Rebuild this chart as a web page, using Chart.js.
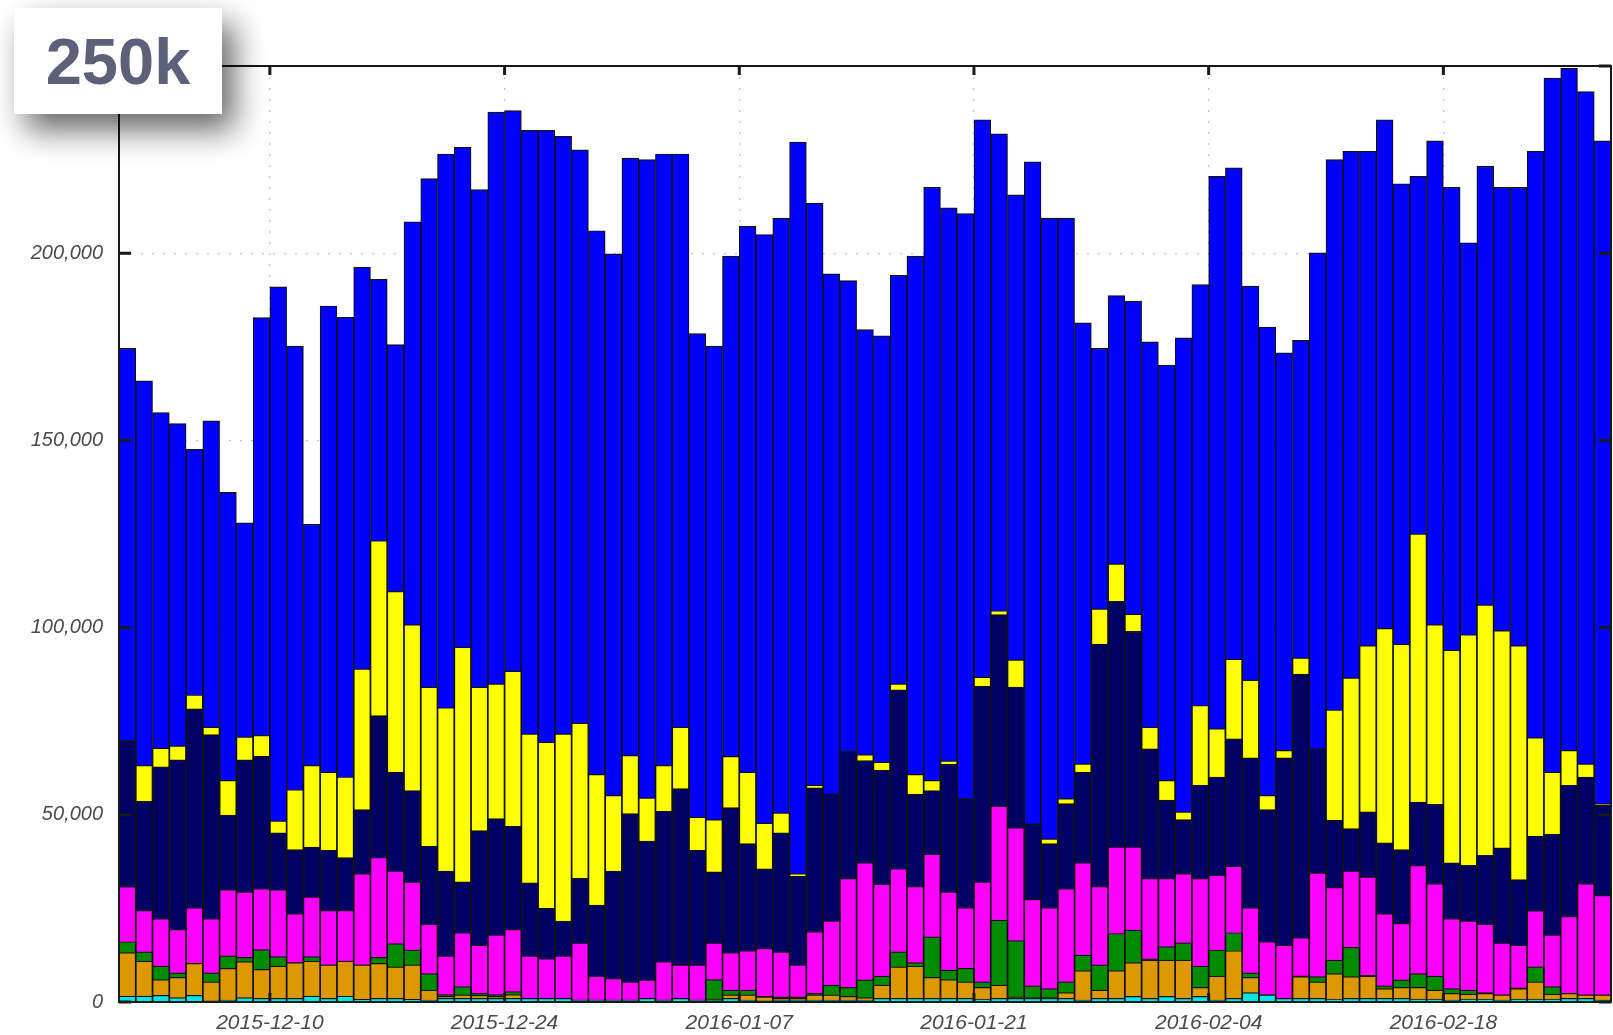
<!DOCTYPE html>
<html><head><meta charset="utf-8">
<script src="https://cdn.jsdelivr.net/npm/chart.js@4.4.1/dist/chart.umd.min.js"></script>
<style>
html,body{margin:0;padding:0;background:#fff;width:1613px;height:1035px;overflow:hidden;}
#wrap{position:relative;width:1613px;height:1035px;}
canvas{position:absolute;left:0;top:0;filter:blur(0.45px);}
#badge{position:absolute;left:14px;top:8px;width:208px;height:106px;background:#fff;box-shadow:12px 16px 30px rgba(0,0,0,0.6);font-family:'Liberation Sans',Arial,sans-serif;font-weight:bold;font-size:65px;color:#5c6079;display:flex;align-items:center;justify-content:center;}
</style></head>
<body><div id="wrap"><canvas id="c" width="1613" height="1035"></canvas><div id="badge">250k</div></div>
<script>
// Day 0 = 2015-12-01, one bar per day (89 days)
const firstDay = '2015-12-01';
const tickDays = [9, 23, 37, 51, 65, 79];
const tickLabels = ['2015-12-10', '2015-12-24', '2016-01-07', '2016-01-21', '2016-02-04', '2016-02-18'];
const yTicks = [0, 50000, 100000, 150000, 200000, 250000];

// Cumulative (stacked) tops of each layer, bottom layer first
const cyan = [
  1600,1600,1800,1200,1800,300,500,1200,1000,1000,
  1000,1600,1000,1600,700,1000,1000,700,500,1000,
  1000,1000,1000,1000,1000,1000,1000,500,500,500,
  500,1000,500,1000,500,500,1000,500,300,500,
  500,500,500,500,500,1000,1000,1000,1000,1000,
  1000,800,1000,1000,1000,1000,1000,500,1000,1000,
  1500,1000,1500,1000,1500,500,1000,2500,1900,1000,
  1000,1000,800,1000,1000,1000,1000,800,800,500,
  800,800,500,800,800,800,1000,1000,500];
const orange = [
  13200,10900,6000,6600,10300,5400,9000,10800,8700,9600,
  10500,10900,9900,10900,9900,10300,9400,9900,3200,1500,
  1900,1800,1500,2000,1000,1000,1000,500,500,500,
  500,1000,500,1000,500,800,1900,1900,1400,1000,
  1000,1900,1900,1500,1200,4500,9400,9600,6600,6000,
  5400,3900,4500,1400,1200,1200,2500,8400,3200,8400,
  10500,11200,11200,11200,3900,6900,13700,6600,1900,1000,
  6800,5400,7600,6800,6900,3600,3900,3900,3200,2300,
  2100,2300,1900,3600,5400,2100,2300,1900,1900];
const green = [
  16100,13400,9600,7800,10300,7800,12300,11900,14000,12100,
  10500,12100,9900,10900,9900,11900,15600,13900,7600,2000,
  4100,2300,2000,2800,1000,1000,1000,500,500,500,
  500,1000,500,1000,500,6000,3200,3200,1600,1400,
  1400,2300,4500,3900,5900,6900,13400,10500,17400,8500,
  9000,5400,21900,16400,4300,3600,5400,12500,9900,18300,
  19200,11500,14800,15800,9600,13900,18500,7800,1900,1000,
  7000,6800,11200,14600,7100,4300,5900,7600,6900,3600,
  3200,2500,1900,3800,9400,4100,2300,1900,1900];
const magenta = [
  30800,24500,22300,19400,25200,22300,30000,29400,30300,30000,
  23600,28100,24500,24500,34300,38600,35000,32100,20800,12300,
  18500,15200,17900,19400,12300,11600,12300,15800,6900,6300,
  5400,5900,10800,9900,9900,15800,13200,13700,14300,13400,
  9900,18800,21700,33000,37200,31500,35600,30900,39500,29400,
  25200,32100,52300,46600,27400,25200,30300,37200,30900,41400,
  41400,33000,33000,34300,33000,33900,36300,25200,16100,15200,
  17200,34500,30600,35000,33400,23600,21000,36500,31600,22300,
  21700,20800,15800,15200,24400,17900,22900,31600,28500];
const navy = [
  69900,53600,62800,64700,78300,71400,49900,64700,65600,45200,
  40700,41400,40500,38600,51400,76500,61400,56500,41600,35000,
  32100,45800,49000,46900,31800,25000,21600,33000,25900,35000,
  50300,43000,50900,57000,40500,34800,51900,42300,35600,45200,
  33600,57200,55600,67000,64500,61900,83400,55500,56500,63500,
  54300,84300,103500,84100,47600,42300,53000,61400,95600,107000,
  99000,67600,53900,48700,57900,60100,70300,65200,51400,65200,
  87600,67600,48500,46300,50800,42500,40700,53400,52800,37200,
  36500,39200,41200,32700,44300,44800,57900,60100,52500];
const yellow = [
  69900,63200,67800,68400,82000,73400,59200,70800,71200,48400,
  56700,63200,61400,60100,89000,123200,109700,100800,84100,78600,
  94800,84100,85000,88400,71600,69400,71600,74500,60800,55200,
  65900,54500,63200,73400,49400,48700,65600,61400,47800,50500,
  34300,57900,55600,67000,66100,64100,85000,60800,59200,64400,
  54300,86800,104500,91400,47600,43600,54300,63600,105000,117000,
  103600,73400,59200,50800,79200,73000,91600,86000,55200,67200,
  91900,67600,78000,86600,95200,99800,95600,125000,100800,94000,
  98100,106100,99200,95200,70600,61400,67200,63600,53000];
const blue = [
  174600,165900,157400,154500,147600,155200,136100,128000,182800,191000,
  175200,127600,185900,182900,196300,193000,175600,208400,219900,226500,
  228300,217000,237700,238100,232800,232800,231200,227600,206000,199800,
  225400,225000,226500,226500,178500,175200,199200,207200,205000,209400,
  229700,213400,194500,192700,179600,177900,194100,199200,217600,212100,
  210600,235600,231900,215600,224400,209400,209400,181400,174600,188700,
  187200,176300,170100,177400,191600,220500,222800,191200,180300,173400,
  176700,200100,225000,227200,227200,235600,218500,220500,230000,217600,
  202800,223200,217600,217600,227200,246800,249400,243200,230000];

const layers = [
  ['cyan', cyan, '#00e6e6'],
  ['orange', orange, '#dd9800'],
  ['green', green, '#008a00'],
  ['magenta', magenta, '#ff00ff'],
  ['navy', navy, '#000064'],
  ['yellow', yellow, '#ffff00'],
  ['blue', blue, '#0000ff']
];

// each day's bar is centred in its day slot
const datasets = layers.map(([name, vals, color]) => ({
  label: name,
  data: vals.map((v, i) => ({x: i + 0.5, y: v})),
  backgroundColor: color,
  borderColor: '#111',
  borderWidth: 1.2,
  barPercentage: 1,
  categoryPercentage: 1,
  grouped: false
}));

const framePlugin = {
  id: 'frame',
  afterDatasetsDraw(chart) {
    const {ctx, chartArea: a, scales: {x, y}} = chart;
    ctx.save();
    ctx.strokeStyle = '#181818';
    ctx.lineWidth = 2;
    ctx.strokeRect(a.left, a.top, a.right - a.left, a.bottom - a.top);
    ctx.lineWidth = 3;
    ctx.beginPath();
    tickDays.forEach(d => {
      const px = x.getPixelForValue(d);
      ctx.moveTo(px, a.top); ctx.lineTo(px, a.top + 9);
      ctx.moveTo(px, a.bottom); ctx.lineTo(px, a.bottom - 9);
    });
    yTicks.forEach(v => {
      const py = y.getPixelForValue(v);
      ctx.moveTo(a.left, py); ctx.lineTo(a.left + 12, py);
      ctx.moveTo(a.right, py); ctx.lineTo(a.right - 12, py);
    });
    ctx.stroke();
    ctx.restore();
  }
};

const tickFontY = {family: "'Liberation Sans', Arial, sans-serif", size: 20, style: 'italic'};
const tickFontX = {family: "'Liberation Sans', Arial, sans-serif", size: 21, style: 'italic'};

new Chart(document.getElementById('c'), {
  type: 'bar',
  data: {datasets},
  options: {
    responsive: false,
    animation: false,
    devicePixelRatio: 1,
    layout: {padding: {top: 66, right: 2, left: 0, bottom: 0}},
    plugins: {legend: {display: false}, tooltip: {enabled: false}},
    scales: {
      x: {
        type: 'linear', min: 0, max: blue.length, offset: false, stacked: false,
        afterBuildTicks: s => { s.ticks = tickDays.map(v => ({value: v})); },
        afterFit: s => { s.height = 33; },
        ticks: {
          autoSkip: false, maxRotation: 0, padding: 9, color: '#4a4a4a', font: tickFontX,
          callback: (v, i) => tickLabels[i]
        },
        grid: {color: '#c4c4c4', lineWidth: 1.2, drawTicks: false, offset: false},
        border: {display: false, dash: [2, 9]}
      },
      y: {
        min: 0, max: 250000, stacked: false,
        afterBuildTicks: s => { s.ticks = yTicks.map(v => ({value: v})); },
        afterFit: s => { s.width = 119; },
        ticks: {
          padding: 16, color: '#4a4a4a', font: tickFontY,
          callback: v => v.toLocaleString('en-US')
        },
        grid: {color: '#c4c4c4', lineWidth: 1.2, drawTicks: false, offset: false},
        border: {display: false, dash: [2, 9]}
      }
    }
  },
  plugins: [framePlugin]
});
</script></body></html>
